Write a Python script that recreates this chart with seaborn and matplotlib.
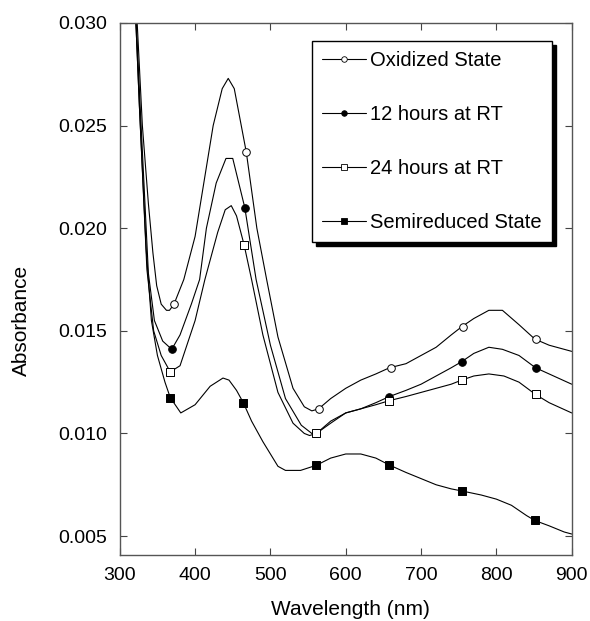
import numpy as np
import pandas as pd
import matplotlib
matplotlib.use("Agg")
import matplotlib.pyplot as plt
from matplotlib.lines import Line2D
import seaborn as sns

# spectra (wavelength nm, absorbance)
ox_wl = [319, 330, 338, 344, 349, 355, 362, 366, 372, 385, 400, 424, 436, 444, 452, 468,
         482, 495, 510, 530, 545, 555, 564, 580, 600, 620, 640, 658, 680, 700, 720, 740,
         754, 770, 790, 808, 830, 851, 870, 900]
ox_abs = [0.0330, 0.0250, 0.0212, 0.0188, 0.0172, 0.0163, 0.0160, 0.0160, 0.0163, 0.0175,
          0.0196, 0.0250, 0.0268, 0.0273, 0.0268, 0.0237, 0.0200, 0.0175, 0.0147, 0.0122,
          0.0113, 0.0111, 0.0112, 0.0117, 0.0122, 0.0126, 0.0129, 0.0132, 0.0134, 0.0138,
          0.0142, 0.0148, 0.0152, 0.0156, 0.0160, 0.0160, 0.0153, 0.0146, 0.0143, 0.0140]

h12_wl = [318, 327, 338, 346, 357, 369, 380, 395, 406, 415, 428, 441, 450, 466, 481, 500,
          520, 541, 555, 561, 580, 600, 620, 640, 658, 680, 700, 720, 740, 754, 770, 790,
          808, 830, 852, 870, 900]
h12_abs = [0.0330, 0.0260, 0.0178, 0.0155, 0.0145, 0.0141, 0.0148, 0.0163, 0.0175, 0.0200,
           0.0222, 0.0234, 0.0234, 0.0210, 0.0175, 0.0143, 0.0117, 0.0104, 0.0100, 0.0100,
           0.0106, 0.0110, 0.0112, 0.0115, 0.0118, 0.0121, 0.0124, 0.0128, 0.0132, 0.0135,
           0.0139, 0.0142, 0.0141, 0.0138, 0.0132, 0.0129, 0.0124]

h24_wl = [318, 326, 336, 345, 355, 367, 380, 400, 413, 430, 440, 448, 455, 465, 475, 490,
          510, 530, 545, 552, 561, 580, 600, 620, 640, 658, 680, 700, 720, 740, 754, 770,
          790, 810, 830, 852, 870, 900]
h24_abs = [0.0330, 0.0260, 0.0180, 0.0150, 0.0138, 0.0130, 0.0133, 0.0155, 0.0175, 0.0198,
           0.0209, 0.0211, 0.0206, 0.0192, 0.0175, 0.0148, 0.0120, 0.0105, 0.0100, 0.0099,
           0.0100, 0.0105, 0.0110, 0.0112, 0.0114, 0.0116, 0.0118, 0.0120, 0.0122, 0.0124,
           0.0126, 0.0128, 0.0129, 0.0128, 0.0125, 0.0119, 0.0115, 0.0110]

semi_wl = [318, 326, 335, 342, 350, 360, 367, 381, 400, 420, 437, 445, 455, 464, 475, 490,
           500, 510, 520, 540, 561, 580, 600, 620, 640, 658, 680, 700, 720, 740, 754, 780,
           800, 820, 840, 851, 870, 890, 900]
semi_abs = [0.0330, 0.0260, 0.0190, 0.0155, 0.0138, 0.0125, 0.01175, 0.0110, 0.0114, 0.0123,
            0.0127, 0.0126, 0.0121, 0.0115, 0.0106, 0.0096, 0.0090, 0.0084, 0.0082, 0.0082,
            0.00845, 0.0088, 0.0090, 0.0090, 0.0088, 0.00846, 0.0081, 0.0078, 0.0075, 0.0073,
            0.0072, 0.0070, 0.0068, 0.0065, 0.0060, 0.00576, 0.0055, 0.0052, 0.0051]

# symbol positions on each trace
ox_mk_wl = [372, 468, 564, 660, 756, 853]
ox_mk_abs = [0.0163, 0.0237, 0.0112, 0.0132, 0.0152, 0.0146]
h12_mk_wl = [369, 466, 561, 658, 755, 852]
h12_mk_abs = [0.0141, 0.0210, 0.0100, 0.0118, 0.0135, 0.0132]
h24_mk_wl = [367, 465, 561, 658, 754, 852]
h24_mk_abs = [0.0130, 0.0192, 0.0100, 0.0116, 0.0126, 0.0119]
semi_mk_wl = [367, 464, 561, 658, 754, 851]
semi_mk_abs = [0.01175, 0.0115, 0.00845, 0.00846, 0.00718, 0.00576]

labels = ["Oxidized State", "12 hours at RT", "24 hours at RT", "Semireduced State"]
markers = ["o", "o", "s", "s"]
marker_faces = ["white", "black", "white", "black"]

series = [
    (ox_wl, ox_abs, ox_mk_wl, ox_mk_abs),
    (h12_wl, h12_abs, h12_mk_wl, h12_mk_abs),
    (h24_wl, h24_abs, h24_mk_wl, h24_mk_abs),
    (semi_wl, semi_abs, semi_mk_wl, semi_mk_abs),
]

sns.set_theme(style="ticks")
plt.rcParams["font.family"] = ["Liberation Sans", "DejaVu Sans"]
plt.rcParams["text.color"] = "black"
plt.rcParams["axes.labelcolor"] = "black"
plt.rcParams["xtick.labelcolor"] = "black"
plt.rcParams["ytick.labelcolor"] = "black"

fig, ax = plt.subplots(figsize=(5.9, 6.21), dpi=100)
fig.subplots_adjust(left=0.203, right=0.969, bottom=0.107, top=0.963)

handles = []
for (wl, ab, mwl, mab), lab, mk, fc in zip(series, labels, markers, marker_faces):
    line_df = pd.DataFrame({"wl": wl, "abs": ab})
    sns.lineplot(data=line_df, x="wl", y="abs", ax=ax, color="black", lw=0.8,
                 estimator=None, sort=False, legend=False)
    mk_df = pd.DataFrame({"wl": mwl, "abs": mab})
    sns.scatterplot(data=mk_df, x="wl", y="abs", ax=ax, marker=mk, s=30,
                    facecolor=fc, edgecolor="black", linewidth=0.7, zorder=3, legend=False)
    handles.append(Line2D([], [], color="black", lw=0.8, marker=mk, markersize=4,
                          markerfacecolor=fc, markeredgecolor="black", markeredgewidth=0.6))

ax.set_xlim(300, 900)
ax.set_ylim(0.0041, 0.030)
ax.set_xticks(np.arange(300, 901, 100))
ax.set_yticks([0.005, 0.010, 0.015, 0.020, 0.025, 0.030])
ax.yaxis.set_major_formatter(matplotlib.ticker.FormatStrFormatter("%.3f"))
ax.tick_params(direction="in", length=5, width=0.8, color="#444444", labelsize=14,
               labelcolor="black", pad=9, top=True, right=True)
for sp in ax.spines.values():
    sp.set_color("#555555")
    sp.set_linewidth(1.0)

ax.set_xlabel("Wavelength (nm)", fontsize=15, color="black")
ax.set_ylabel("Absorbance", fontsize=15, color="black")
ax.xaxis.set_label_coords(0.51, -0.104)
ax.yaxis.set_label_coords(-0.217, 0.44)
ax.xaxis.label.set_va("center")
ax.yaxis.label.set_va("center")

leg = ax.legend(handles, labels, loc="upper right", bbox_to_anchor=(0.956, 0.967),
                fontsize=14.5, frameon=True, fancybox=False, handlelength=2.2,
                handletextpad=0.2, labelspacing=1.74, borderpad=0.5, borderaxespad=0,
                shadow={"color": "black", "alpha": 1, "ox": 3, "oy": -3})
leg.get_frame().set_edgecolor("black")
leg.get_frame().set_linewidth(1.0)
leg.get_frame().set_facecolor("white")
leg.get_frame().set_alpha(1)
for txt in leg.get_texts():
    txt.set_color("black")

fig.savefig("out.png", dpi=100)
